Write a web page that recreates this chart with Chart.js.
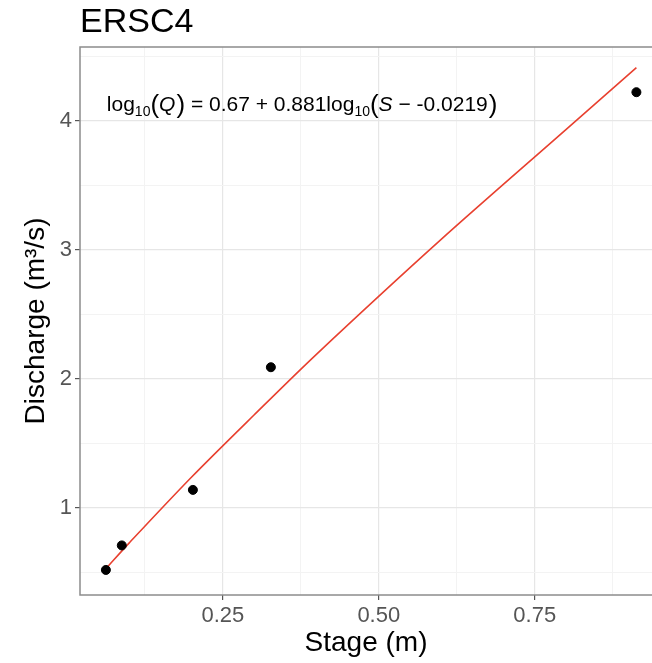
<!DOCTYPE html>
<html>
<head>
<meta charset="utf-8">
<script src="https://cdn.jsdelivr.net/npm/chart.js@4.4.0/dist/chart.umd.min.js"></script>
<style>
 html,body{margin:0;padding:0;background:#fff;overflow:hidden;}
</style>
</head>
<body>
<canvas id="chart" width="652" height="663"></canvas>
<script>
// observed points
var stage = [0.0625, 0.088, 0.202, 0.327, 0.913];
var discharge = [0.52, 0.71, 1.14, 2.09, 4.22];
// fitted rating curve
var fitStage = [0.0625, 0.1, 0.2, 0.3, 0.4, 0.6, 0.8, 0.913];
var fitDischarge = [0.53, 0.73, 1.24, 1.72, 2.19, 3.08, 3.93, 4.41];
// labelled ticks
var xTicks = [0.25, 0.5, 0.75];
var yTicks = [1, 2, 3, 4];

var FONT = '"Liberation Sans", Arial, sans-serif';

function isMajor(list, v){
    for (var i = 0; i < list.length; i++){
        if (Math.abs(list[i] - v) < 1e-6) return true;
    }
    return false;
}

function toXY(xs, ys){
    var out = [];
    for (var i = 0; i < xs.length; i++) out.push({x: xs[i], y: ys[i]});
    return out;
}

// draws a run of text pieces, each with its own font and offset
function drawRich(ctx, x, y, parts){
    for (var i = 0; i < parts.length; i++){
        var p = parts[i];
        ctx.font = p.f;
        ctx.fillText(p.t, x, y + (p.dy || 0));
        x += ctx.measureText(p.t).width + (p.gap || 0);
    }
}

var decor = {
    id: 'decor',
    beforeDatasetsDraw: function(chart){
        var ctx = chart.ctx, a = chart.chartArea;
        ctx.save();
        ctx.strokeStyle = '#8c8c8c';
        ctx.lineWidth = 1.5;
        ctx.strokeRect(a.left, a.top, a.right + 4 - a.left, a.bottom - a.top);
        ctx.restore();
    },
    afterDraw: function(chart){
        var ctx = chart.ctx;
        ctx.save();
        ctx.fillStyle = '#000';
        ctx.textBaseline = 'alphabetic';
        ctx.font = '34px ' + FONT;
        ctx.fillText('ERSC4', 80, 32);

        var ex = chart.scales.x.getPixelForValue(0.064);
        var ey = chart.scales.y.getPixelForValue(4.13) + 7;
        var n = '21px ' + FONT, s = '14px ' + FONT, it = 'italic 21px ' + FONT, big = '26px ' + FONT;
        drawRich(ctx, ex, ey, [
            {t: 'log', f: n}, {t: '10', f: s, dy: 5}, {t: '(', f: big, dy: 2}, {t: 'Q', f: it, gap: 1},
            {t: ')', f: big, dy: 2}, {t: ' = 0.67 + 0.881log', f: n}, {t: '10', f: s, dy: 5},
            {t: '(', f: big, dy: 2}, {t: 'S', f: it}, {t: ' \u2212 -0.0219', f: n, gap: 1}, {t: ')', f: big, dy: 2}
        ]);
        ctx.restore();
    }
};

var ctx_chart = document.getElementById('chart').getContext('2d');
var chart = new Chart(ctx_chart, {
    type: 'scatter',
    data: {
        datasets: [{
            type: 'line',
            data: toXY(fitStage, fitDischarge),
            borderColor: '#e8402f',
            borderWidth: 1.6,
            pointRadius: 0,
            fill: false,
            tension: 0.3,
            order: 2
        }, {
            data: toXY(stage, discharge),
            backgroundColor: '#000',
            borderColor: '#000',
            pointRadius: 4.5,
            order: 1
        }]
    },
    plugins: [decor],
    options: {
        responsive: false,
        animation: false,
        layout: {autoPadding: false, padding: {top: 47, right: 0, left: 0, bottom: 0}},
        plugins: {legend: {display: false}, tooltip: {enabled: false}},
        scales: {
            x: {
                type: 'linear',
                min: 0.021,
                max: 0.938,
                afterFit: function(sc){ sc.height = 68; sc.paddingRight = 0; sc.paddingLeft = 0; },
                border: {display: false},
                grid: {
                    color: function(c){ return isMajor(xTicks, c.tick.value) ? '#e6e6e6' : '#f3f3f3'; },
                    lineWidth: function(c){ return isMajor(xTicks, c.tick.value) ? 1.2 : 1; },
                    tickColor: function(c){ return isMajor(xTicks, c.tick.value) ? '#555' : 'rgba(0,0,0,0)'; },
                    tickLength: 5
                },
                ticks: {
                    stepSize: 0.125,
                    includeBounds: false,
                    autoSkip: false,
                    maxRotation: 0,
                    padding: 3,
                    color: '#555',
                    font: {family: FONT, size: 22},
                    callback: function(v){ return isMajor(xTicks, v) ? v.toFixed(2) : ''; }
                },
                title: {
                    display: true,
                    text: 'Stage (m)',
                    color: '#000',
                    font: {family: FONT, size: 28},
                    padding: {top: 0, bottom: 3}
                }
            },
            y: {
                type: 'linear',
                min: 0.326,
                max: 4.57,
                afterFit: function(sc){ sc.width = 80; sc.paddingTop = 0; sc.paddingBottom = 0; },
                border: {display: false},
                grid: {
                    color: function(c){ return isMajor(yTicks, c.tick.value) ? '#e6e6e6' : '#f3f3f3'; },
                    lineWidth: function(c){ return isMajor(yTicks, c.tick.value) ? 1.2 : 1; },
                    tickColor: function(c){ return isMajor(yTicks, c.tick.value) ? '#555' : 'rgba(0,0,0,0)'; },
                    tickLength: 5
                },
                ticks: {
                    stepSize: 0.5,
                    includeBounds: false,
                    autoSkip: false,
                    padding: 3,
                    color: '#555',
                    font: {family: FONT, size: 22},
                    callback: function(v){ return isMajor(yTicks, v) ? String(v) : ''; }
                },
                title: {
                    display: true,
                    text: 'Discharge (m\u00b3/s)',
                    color: '#000',
                    font: {family: FONT, size: 28},
                    padding: {top: 19, bottom: 0}
                }
            }
        }
    }
});
</script>
</body>
</html>
